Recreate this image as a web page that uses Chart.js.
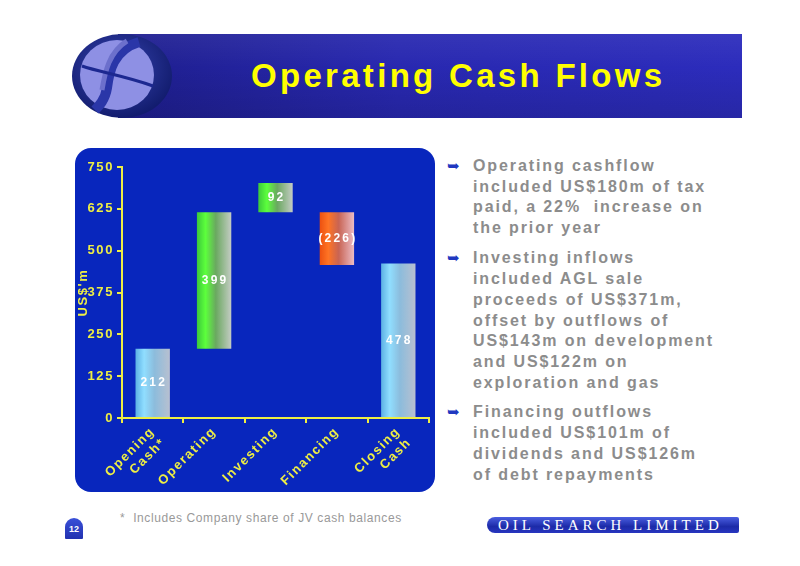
<!DOCTYPE html>
<html>
<head>
<meta charset="utf-8">
<script src="https://cdn.jsdelivr.net/npm/chart.js@4.4.1/dist/chart.umd.min.js"></script>
<style>
    body { margin: 0; width: 800px; height: 566px; background: #fff; position: relative; overflow: hidden; font-family: "Liberation Sans", Arial, sans-serif; }
    .banner { position: absolute; left: 118px; top: 34px; width: 624px; height: 84px;
        background: linear-gradient(to bottom, rgba(255,255,255,0.06), rgba(0,0,0,0) 40%, rgba(0,0,0,0.12)), linear-gradient(to right, #1e1e8e, #2828b0 45%, #2c2cbc); }
    .title { position: absolute; left: 251px; top: 59px; font-size: 33px; line-height: 33px; font-weight: bold; color: #ffff00; letter-spacing: 3.3px; white-space: nowrap; }
    .panel { position: absolute; left: 75px; top: 148px; width: 360px; height: 344px; border-radius: 16px; background: #0826bd; }
    #chart { position: absolute; left: 75px; top: 148px; }
    .notes { position: absolute; left: 473px; font-size: 16px; line-height: 20.7px; font-weight: bold; color: #8c8c8c; letter-spacing: 1.9px; white-space: nowrap; }
    .notes .arrow { position: absolute; left: -26px; top: 0; color: #2038c0; font-size: 15px; letter-spacing: 0; font-family: "DejaVu Sans", sans-serif; }
    .foot { position: absolute; left: 120px; top: 512px; font-size: 12px; line-height: 12px; color: #999; letter-spacing: 0.6px; white-space: nowrap; }
    .page { position: absolute; left: 65px; top: 518px; width: 18px; height: 21px; border-radius: 9px 9px 1px 1px; background: linear-gradient(#3a50d8, #2232b0); color: #fff; font-size: 9px; font-weight: bold; text-align: center; line-height: 23px; }
    .brand { position: absolute; left: 487px; top: 517px; width: 252px; height: 16px; border-radius: 8px 2px 2px 8px; background: linear-gradient(to bottom, #4a5ee0, #1c2aa8 60%, #2836c0); color: #fff; font-family: "Liberation Serif", serif; font-size: 15px; line-height: 16px; letter-spacing: 4px; white-space: nowrap; padding-left: 11px; box-sizing: border-box; }
</style>
</head>
<body>
<div class="banner"></div>
<svg width="106" height="88" style="position:absolute;left:69px;top:32px">
    <defs>
        <radialGradient id="rim" cx="45%" cy="40%" r="60%">
            <stop offset="0" stop-color="#3846b4"/>
            <stop offset="1" stop-color="#121c6e"/>
        </radialGradient>
    </defs>
    <ellipse cx="53" cy="44" rx="50" ry="42" fill="url(#rim)"/>
    <ellipse cx="48" cy="43" rx="37" ry="35" fill="#8e90e4"/>
    <path d="M70 10 C44 18 40 40 38 56 C36 68 30 74 26 78" stroke="#2a36a8" stroke-width="10" fill="none"/>
    <path d="M58 9 C40 20 36 40 33 58" stroke="#6c70cc" stroke-width="5" fill="none"/>
    <path d="M13 34 C30 40 56 44 84 54" stroke="#1c2890" stroke-width="3" fill="none"/>
</svg>
<div class="title">Operating Cash Flows</div>

<div class="panel"></div>
<canvas id="chart" width="360" height="344"></canvas>

<div class="notes" style="top:155.8px"><span class="arrow">➥</span>Operating cashflow<br>included US$180m of tax<br>paid, a 22%&nbsp; increase on<br>the prior year</div>
<div class="notes" style="top:248.4px"><span class="arrow">➥</span>Investing inflows<br>included AGL sale<br>proceeds of US$371m,<br>offset by outflows of<br>US$143m on development<br>and US$122m on<br>exploration and gas</div>
<div class="notes" style="top:402.4px"><span class="arrow">➥</span>Financing outflows<br>included US$101m of<br>dividends and US$126m<br>of debt repayments</div>

<div class="page">12</div>
<div class="foot">*&nbsp; Includes Company share of JV cash balances</div>
<div class="brand">OIL SEARCH LIMITED</div>

<script>
// chart data
const categories = [['Opening', 'Cash*'], 'Operating', 'Investing', 'Financing', ['Closing', 'Cash']]
const barLows = [0, 207, 615, 457, 0]
const barHighs = [207, 615, 702, 615, 462]
const valueLabels = ['212', '399', '92', '(226)', '478']
const yTicks = [0, 125, 250, 375, 500, 625, 750]

// gradient colours per bar kind (left -> right)
const gradients = {
    cash: ['#5cb0e4', '#90deff', '#8cbcdc', '#b8c0d0'],
    up: ['#3cc83c', '#5cff3c', '#6aa860', '#c4ccc4'],
    down: ['#ec5010', '#ff7424', '#c86454', '#ecbcc4']
}
const barKinds = ['cash', 'up', 'up', 'down', 'cash']
const yellow = '#eeee44'
const chartFont = { family: '"Liberation Sans", Arial, sans-serif', size: 13, weight: 'bold' }

function barFill(c) {
    let chart = c.chart
    let kind = gradients[barKinds[c.dataIndex]]
    if (!chart.chartArea || !chart.scales.x) return kind[1]
    let xs = chart.scales.x
    let cx = xs.getPixelForValue(c.dataIndex)
    let half = xs.width / categories.length * 0.56 / 2
    let g = chart.ctx.createLinearGradient(cx - half, 0, cx + half, 0)
    g.addColorStop(0, kind[0])
    g.addColorStop(0.25, kind[1])
    g.addColorStop(0.55, kind[2])
    g.addColorStop(1, kind[3])
    return g
}

// spaced-out lettering like the slide
const spacing = {
    id: 'spacing',
    beforeUpdate(chart) { chart.ctx.letterSpacing = '1.6px' },
    beforeDraw(chart) { chart.ctx.letterSpacing = '1.6px' }
}

const barText = {
    id: 'barText',
    afterDatasetsDraw(chart) {
        let ctx = chart.ctx
        let meta = chart.getDatasetMeta(0)
        ctx.save()
        ctx.letterSpacing = '2.2px'
        ctx.font = 'bold 12px "Liberation Sans", Arial, sans-serif'
        ctx.fillStyle = '#ffffff'
        ctx.textAlign = 'center'
        ctx.textBaseline = 'middle'
        meta.data.forEach((bar, i) => {
            ctx.fillText(valueLabels[i], bar.x + 1, (bar.y + bar.base) / 2)
        })
        ctx.restore()
    }
}

const ctx = document.getElementById('chart').getContext('2d')
new Chart(ctx, {
    type: 'bar',
    data: {
        labels: categories,
        datasets: [{
            data: barLows.map((lo, i) => [lo, barHighs[i]]),
            backgroundColor: barFill,
            borderWidth: 0,
            barPercentage: 0.56,
            categoryPercentage: 1
        }]
    },
    options: {
        responsive: false,
        animation: false,
        layout: { padding: { left: 2, top: 19, right: 6, bottom: 0 } },
        plugins: { legend: { display: false }, tooltip: { enabled: false } },
        scales: {
            y: {
                min: 0,
                max: 750,
                afterBuildTicks: s => { s.ticks = yTicks.map(v => ({ value: v })) },
                afterFit: s => { s.width = 45 },
                border: { color: yellow, width: 2 },
                grid: { drawOnChartArea: false, drawTicks: true, tickLength: 5, color: yellow, lineWidth: 2 },
                ticks: { color: yellow, padding: 3, font: chartFont },
                title: { display: true, text: "US$'m", color: yellow, padding: { top: -1, bottom: 0 }, font: chartFont }
            },
            x: {
                afterFit: s => { s.height = 74 },
                border: { color: yellow, width: 2 },
                grid: { drawOnChartArea: false, drawTicks: true, tickLength: 5, color: yellow, lineWidth: 2, offset: true },
                ticks: { color: yellow, minRotation: 45, maxRotation: 45, padding: 1, font: chartFont }
            }
        }
    },
    plugins: [spacing, barText]
})
</script>
</body>
</html>
